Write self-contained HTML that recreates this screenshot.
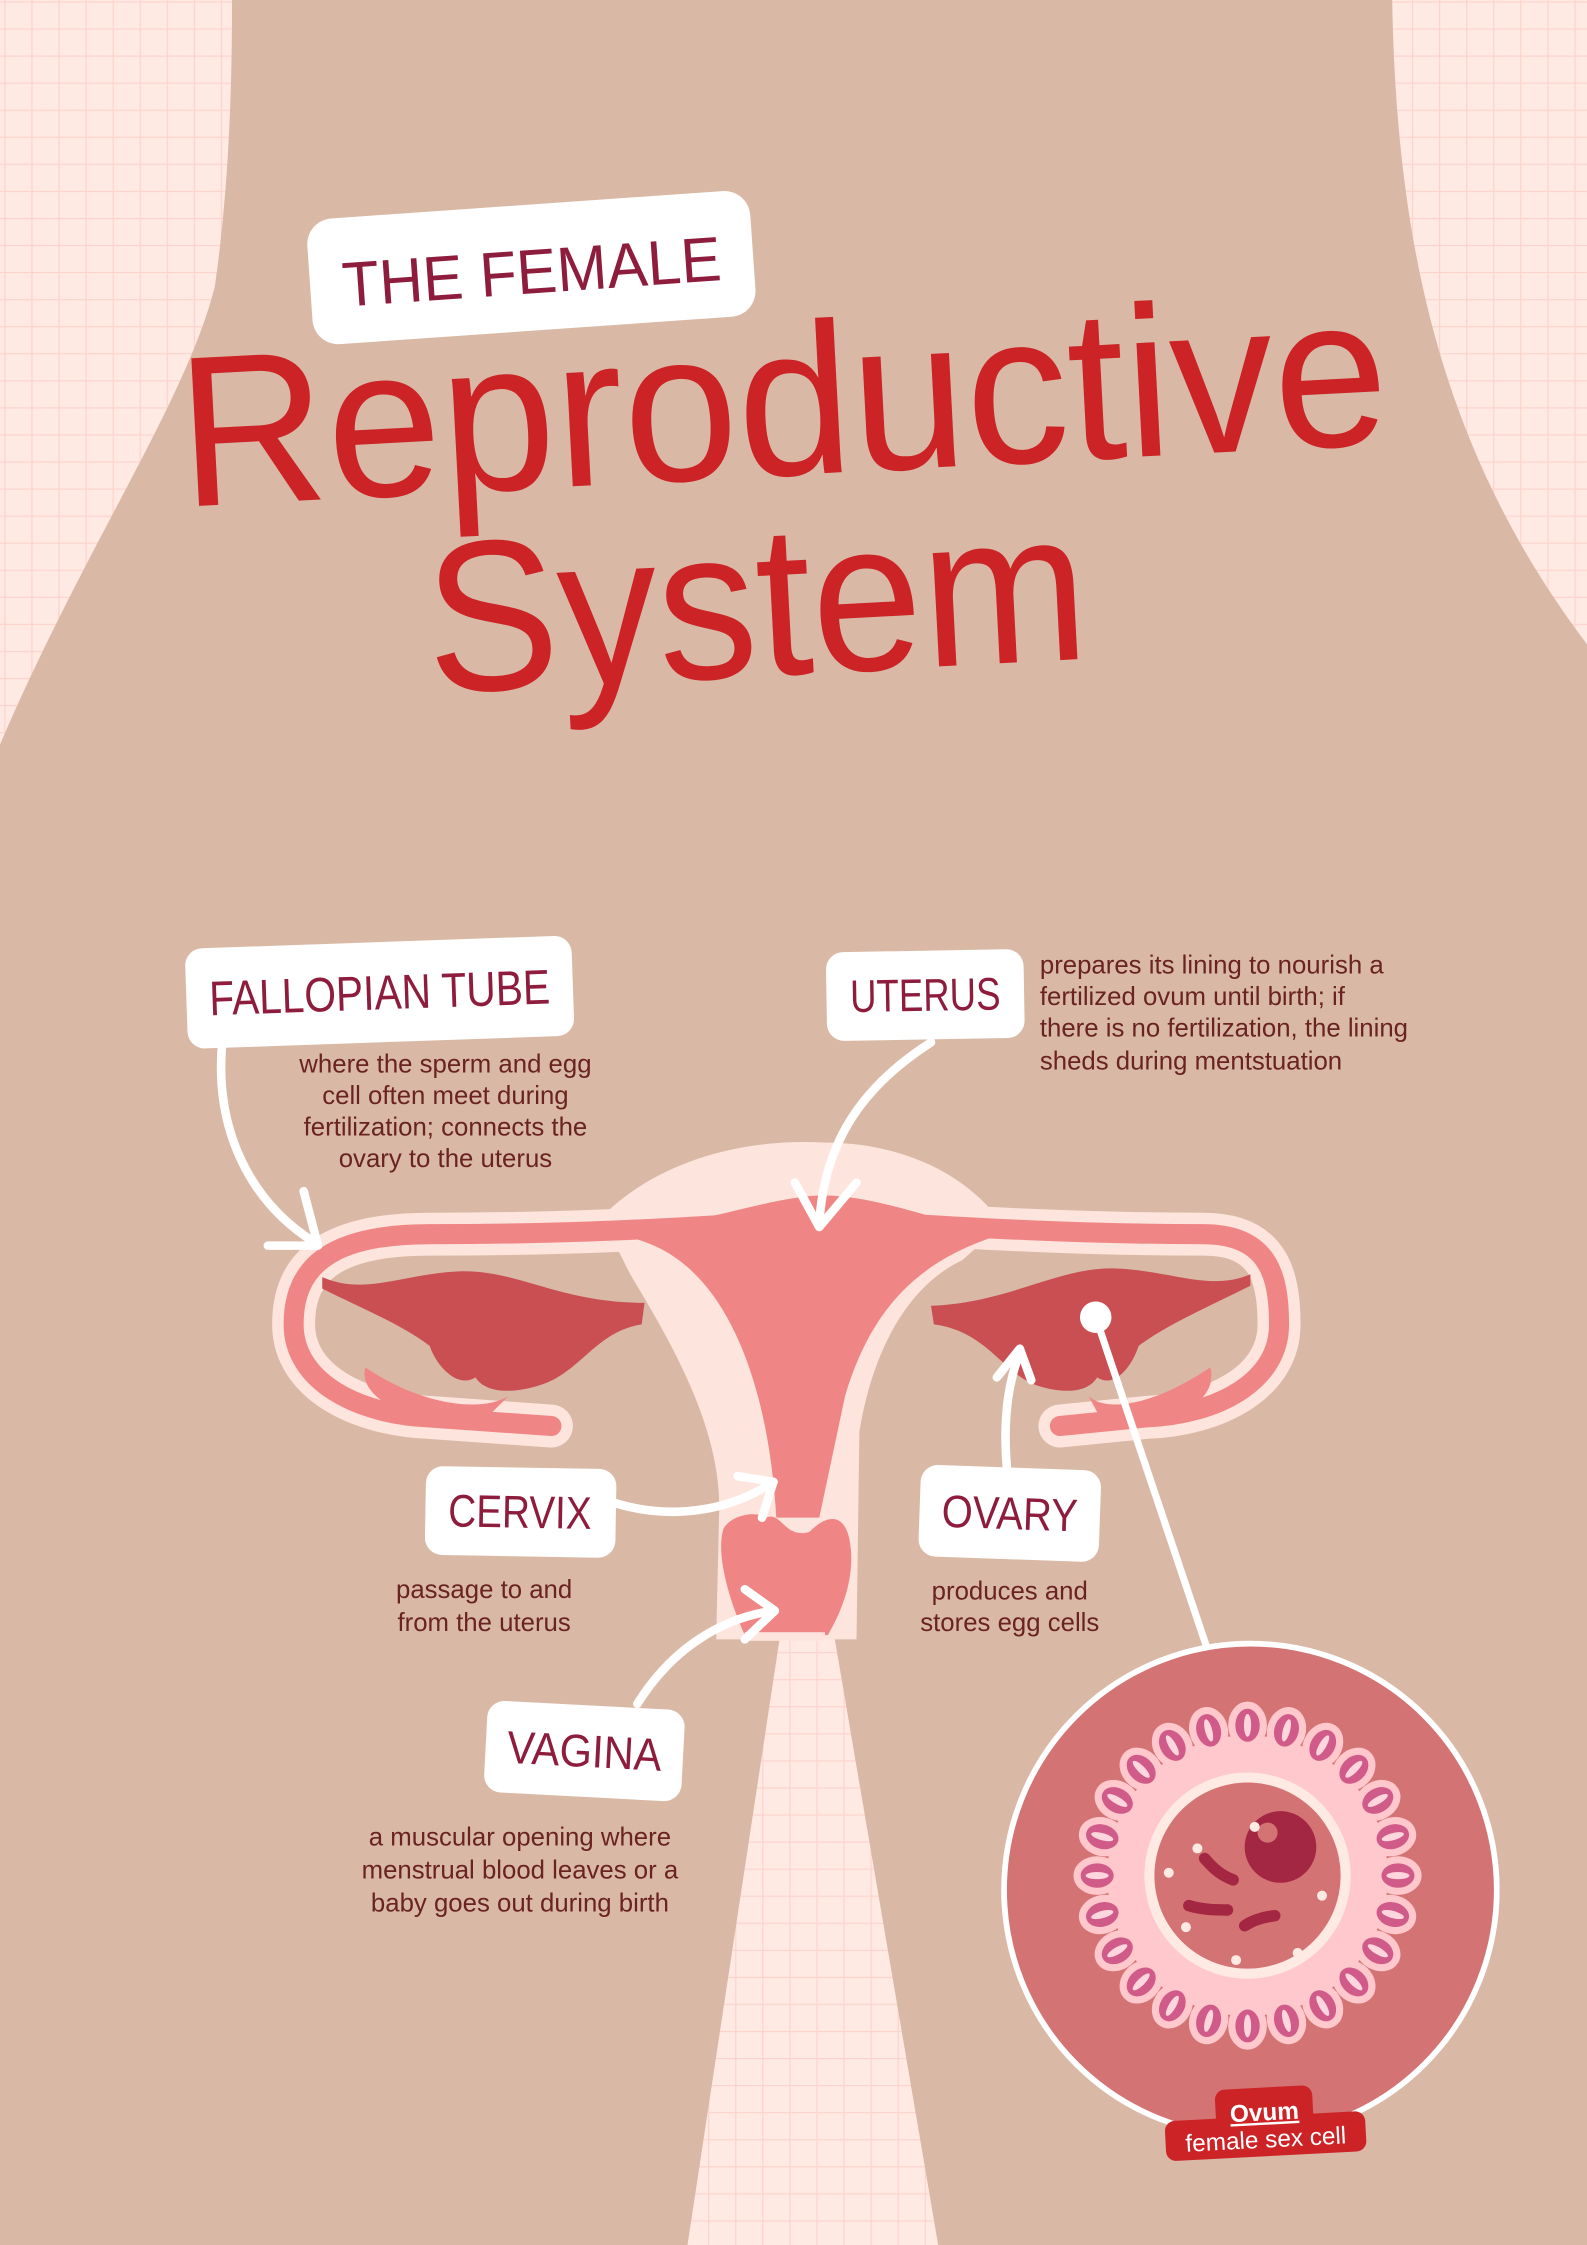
<!DOCTYPE html>
<html><head><meta charset="utf-8"><style>
html,body{margin:0;padding:0;background:#d9b9a5;}
svg{display:block}
.lab{font-family:"Liberation Sans Narrow","Liberation Sans",sans-serif;fill:#8e1d3d;}
.desc{font-family:"Liberation Sans",sans-serif;fill:#6a2323;font-size:18px;}
</style></head><body>
<svg width="1587" height="2245" viewBox="0 0 1108 1568" preserveAspectRatio="none" xmlns="http://www.w3.org/2000/svg">
<defs>
<pattern id="grid" width="18.9" height="18.9" patternUnits="userSpaceOnUse" x="3" y="1">
<rect width="18.9" height="18.9" fill="#ffe9e3"/>
<path d="M0 0H18.9M0 0V18.9" stroke="#fcd3cb" stroke-width="1.6" fill="none"/>
</pattern>
</defs>
<rect width="1108" height="1568" fill="url(#grid)"/>
<!-- skin -->
<path d="M162,0 L972,0 C975,180 1010,320 1108,450 L1108,1568 L655,1568 L582,1140 L545,1140 L480,1568 L0,1568 L0,520 C60,380 130,280 150,200 C160,130 162,60 162,0 Z" fill="#d9b9a5"/>

<!-- title -->
<g transform="rotate(-4 370 187)">
<rect x="216" y="143" width="310" height="88" rx="18" fill="#fff"/>
<text x="371" y="205" text-anchor="middle" class="lab" font-size="44" textLength="265" lengthAdjust="spacingAndGlyphs">THE FEMALE</text>
</g>
<text x="125" y="332" font-family="Liberation Sans, sans-serif" font-size="150" fill="#cc2327" textLength="845" lengthAdjust="spacingAndGlyphs" transform="rotate(-3 545 300)">Reproductive</text>
<text x="298" y="472" font-family="Liberation Sans, sans-serif" font-size="150" fill="#cc2327" textLength="462" lengthAdjust="spacingAndGlyphs" transform="rotate(-3 530 440)">System</text>

<!-- uterus diagram -->
<!-- pale halo -->
<path d="M420,850 C460,810 520,795 575,798 C630,798 675,820 700,855 L672,880 C630,900 608,950 600,1000 L598,1145 L500,1145 L502,1060 C505,1000 470,940 440,890 Z" fill="#fde4dc"/>
<!-- tubes: pale outline -->
<g fill="none" stroke-linecap="round" stroke-linejoin="round">
<path d="M560,852 C470,858 400,862 300,862 C230,862 205,885 205,925 C205,965 250,988 300,990 L385,996" stroke="#fde4dc" stroke-width="30"/>
<path d="M590,852 C680,858 760,862 840,862 C885,862 893,890 893,925 C893,965 850,988 800,990 L740,996" stroke="#fde4dc" stroke-width="30"/>
<path d="M560,852 C470,858 400,862 300,862 C230,862 205,885 205,925 C205,965 250,988 300,990 L385,996" stroke="#f08585" stroke-width="14"/>
<path d="M590,852 C680,858 760,862 840,862 C885,862 893,890 893,925 C893,965 850,988 800,990 L740,996" stroke="#f08585" stroke-width="14"/>
</g>
<!-- fimbriae ends -->
<path d="M255,955 C300,985 340,985 355,975 L340,990 L385,992 L385,1000 L320,998 C280,990 250,975 255,955 Z" fill="#f08585"/>
<path d="M845,955 C800,985 770,985 760,975 L768,990 L735,992 L738,1000 L790,998 C830,990 850,975 845,955 Z" fill="#f08585"/>
<!-- ovaries -->
<path d="M225,892 C255,905 280,890 320,888 C360,886 390,910 450,910 L448,925 C415,930 405,960 375,968 C355,974 338,972 332,962 C320,970 305,955 300,940 C280,925 255,915 225,900 Z" fill="#c94f53"/>
<path d="M873,890 C845,902 820,888 780,886 C740,884 705,910 650,912 L652,925 C690,930 700,960 725,968 C745,974 760,972 766,962 C778,970 790,955 795,940 C815,925 845,912 873,898 Z" fill="#c94f53"/>
<!-- body -->
<path d="M430,862 C490,855 540,835 575,835 C612,835 650,852 700,862 C640,880 608,915 590,975 L572,1060 L542,1060 C538,990 520,920 480,885 C465,872 450,866 430,862 Z" fill="#f08585"/>
<path d="M535,1060 C545,1055 548,1075 565,1070 C580,1055 590,1060 593,1075 C598,1100 588,1125 578,1142 L520,1142 C508,1115 500,1085 505,1068 C510,1058 528,1055 535,1060 Z" fill="#f08585"/>
<rect x="520" y="1140" width="56" height="6" fill="#fde4dc"/>

<!-- arrows -->
<g fill="none" stroke="#fff" stroke-width="6" stroke-linecap="round" stroke-linejoin="round">
<path d="M155,730 C150,790 175,840 220,868"/>
<path d="M187,870 L222,870 L212,832"/>
<path d="M650,728 C600,760 575,800 572,855"/>
<path d="M555,826 L572,857 L598,826"/>
<path d="M430,1050 C470,1062 510,1055 540,1035"/>
<path d="M515,1031 L540,1035 L532,1060"/>
<path d="M703,1025 C700,990 704,965 712,945"/>
<path d="M696,962 L712,942 L720,964"/>
<path d="M445,1190 C470,1150 505,1130 540,1125"/>
<path d="M520,1110 L541,1125 L520,1145"/>
<path d="M765,920 L843,1152" stroke-width="5"/>
</g>
<circle cx="765" cy="920" r="11" fill="#fff"/>

<!-- label boxes -->
<g transform="rotate(-2 265 692)"><rect x="130" y="658" width="270" height="70" rx="12" fill="#fff"/>
<text x="265" y="705" text-anchor="middle" class="lab" font-size="34" textLength="238" lengthAdjust="spacingAndGlyphs">FALLOPIAN TUBE</text></g>
<g transform="rotate(-1 646 695)"><rect x="577" y="664" width="138" height="62" rx="12" fill="#fff"/>
<text x="646" y="706" text-anchor="middle" class="lab" font-size="32" textLength="105" lengthAdjust="spacingAndGlyphs">UTERUS</text></g>
<g transform="rotate(1 363 1056)"><rect x="297" y="1025" width="133" height="62" rx="12" fill="#fff"/>
<text x="363" y="1067" text-anchor="middle" class="lab" font-size="32" textLength="100" lengthAdjust="spacingAndGlyphs">CERVIX</text></g>
<g transform="rotate(2 705 1057)"><rect x="642" y="1025" width="126" height="64" rx="12" fill="#fff"/>
<text x="705" y="1068" text-anchor="middle" class="lab" font-size="32" textLength="95" lengthAdjust="spacingAndGlyphs">OVARY</text></g>
<g transform="rotate(3 408 1223)"><rect x="339" y="1191" width="138" height="64" rx="12" fill="#fff"/>
<text x="408" y="1234" text-anchor="middle" class="lab" font-size="32" textLength="108" lengthAdjust="spacingAndGlyphs">VAGINA</text></g>

<!-- descriptions -->
<g class="desc" text-anchor="middle">
<text x="311" y="749">where the sperm and egg</text>
<text x="311" y="771">cell often meet during</text>
<text x="311" y="793">fertilization; connects the</text>
<text x="311" y="815">ovary to the uterus</text>
<text x="338" y="1116">passage to and</text>
<text x="338" y="1139">from the uterus</text>
<text x="705" y="1117">produces and</text>
<text x="705" y="1139">stores egg cells</text>
<text x="363" y="1289">a muscular opening where</text>
<text x="363" y="1312">menstrual blood leaves or a</text>
<text x="363" y="1335">baby goes out during birth</text>
</g>
<g class="desc">
<text x="726" y="680">prepares its lining to nourish a</text>
<text x="726" y="702">fertilized ovum until birth; if</text>
<text x="726" y="724">there is no fertilization, the lining</text>
<text x="726" y="747">sheds during mentstuation</text>
</g>

<!-- ovum -->
<circle cx="873" cy="1320" r="172" fill="#d47373" stroke="#fff" stroke-width="4"/>
<circle cx="871" cy="1310" r="98" fill="#ffc8cc"/>
<g fill="#d05a88" stroke="#ffc8cc" stroke-width="5">
<g id="c"><ellipse cx="871" cy="1205" rx="11" ry="14"/><ellipse cx="871" cy="1205" rx="2.5" ry="8" fill="#ffd5de" stroke="none"/></g>
<use href="#c" transform="rotate(15 871 1310)"/><use href="#c" transform="rotate(30 871 1310)"/>
<use href="#c" transform="rotate(45 871 1310)"/><use href="#c" transform="rotate(60 871 1310)"/>
<use href="#c" transform="rotate(75 871 1310)"/><use href="#c" transform="rotate(90 871 1310)"/>
<use href="#c" transform="rotate(105 871 1310)"/><use href="#c" transform="rotate(120 871 1310)"/>
<use href="#c" transform="rotate(135 871 1310)"/><use href="#c" transform="rotate(150 871 1310)"/>
<use href="#c" transform="rotate(165 871 1310)"/><use href="#c" transform="rotate(180 871 1310)"/>
<use href="#c" transform="rotate(195 871 1310)"/><use href="#c" transform="rotate(210 871 1310)"/>
<use href="#c" transform="rotate(225 871 1310)"/><use href="#c" transform="rotate(240 871 1310)"/>
<use href="#c" transform="rotate(255 871 1310)"/><use href="#c" transform="rotate(270 871 1310)"/>
<use href="#c" transform="rotate(285 871 1310)"/><use href="#c" transform="rotate(300 871 1310)"/>
<use href="#c" transform="rotate(315 871 1310)"/><use href="#c" transform="rotate(330 871 1310)"/>
<use href="#c" transform="rotate(345 871 1310)"/>
</g>
<circle cx="871" cy="1310" r="72" fill="#ffe9e3"/>
<circle cx="871" cy="1310" r="65" fill="#d47373"/>
<circle cx="894" cy="1290" r="25" fill="#a32643"/>
<circle cx="885" cy="1280" r="7" fill="#d47373"/>
<g stroke="#a32643" stroke-width="8" stroke-linecap="round" fill="none">
<path d="M841,1298 C848,1306 853,1310 861,1313"/>
<path d="M830,1331 C840,1334 850,1334 857,1334"/>
<path d="M869,1345 C875,1341 882,1339 890,1338"/>
</g>
<g fill="#ffe9e3">
<circle cx="876" cy="1276" r="3.5"/><circle cx="836" cy="1291" r="3.5"/><circle cx="816" cy="1308" r="3.5"/>
<circle cx="923" cy="1324" r="3.5"/><circle cx="828" cy="1346" r="3.5"/><circle cx="906" cy="1364" r="3.5"/><circle cx="863" cy="1369" r="3.5"/>
</g>
<g transform="rotate(-3 883 1480)">
<rect x="813" y="1478" width="140" height="28" rx="7" fill="#cc2327"/>
<rect x="849" y="1458" width="68" height="30" rx="7" fill="#cc2327"/>
<text x="883" y="1481" text-anchor="middle" font-family="Liberation Sans, sans-serif" font-weight="bold" font-size="17" fill="#fff" text-decoration="underline">Ovum</text>
<text x="883" y="1500" text-anchor="middle" font-family="Liberation Sans, sans-serif" font-size="17" fill="#fff">female sex cell</text>
</g>
</svg>
</body></html>
